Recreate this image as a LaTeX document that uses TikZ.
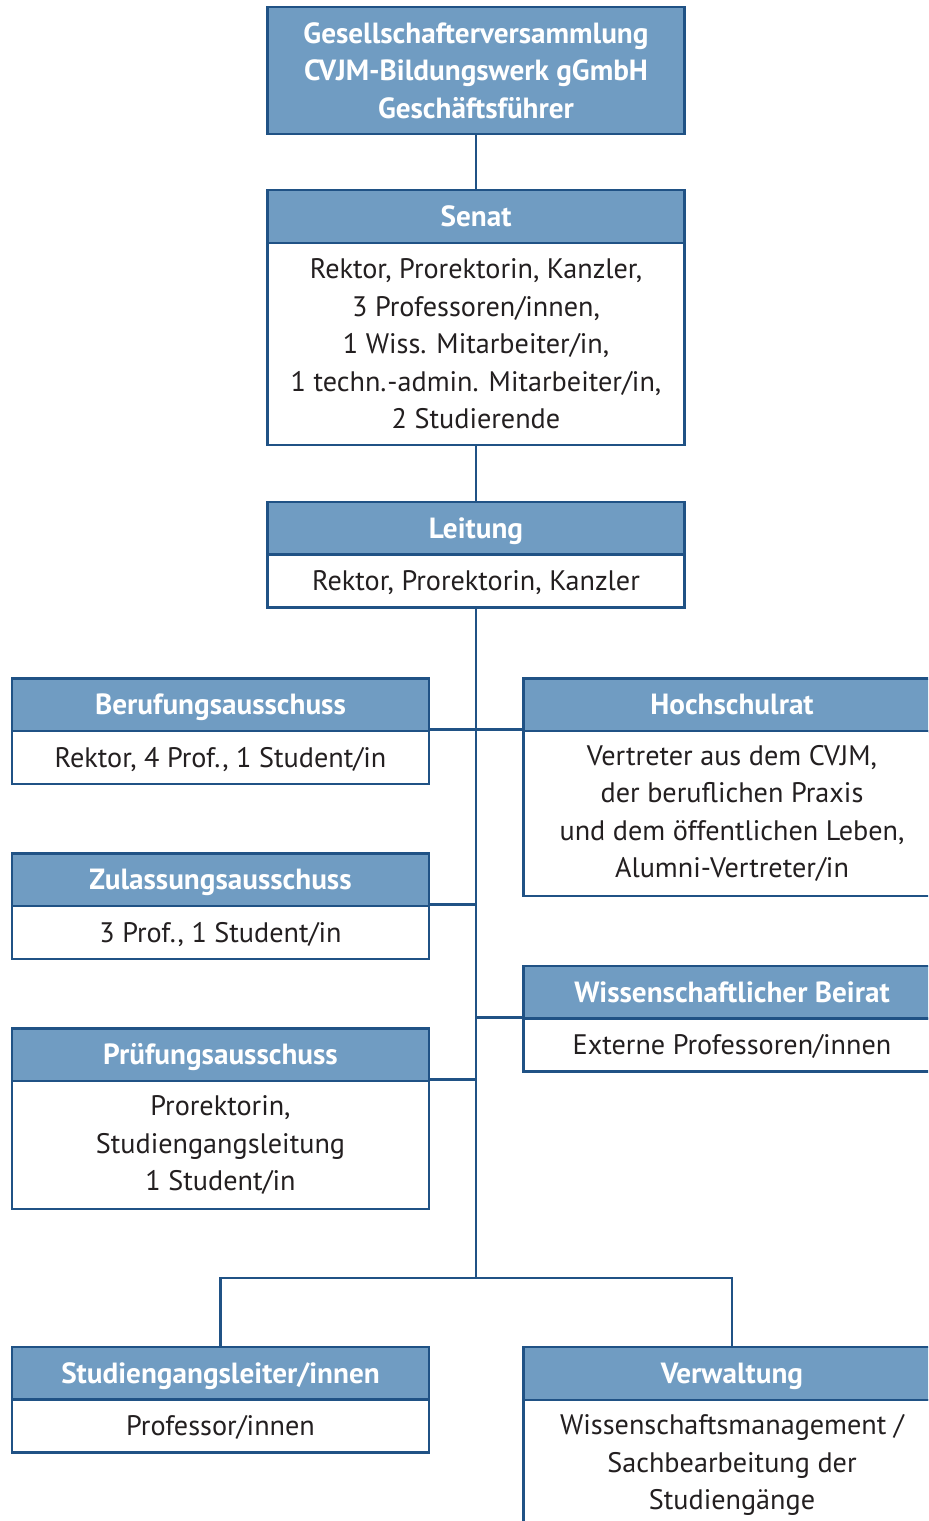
\documentclass[tikz,border=0pt]{standalone}
\usepackage{fontspec}
\setmainfont{PT Sans}
\usepackage{tikz}

\definecolor{frameblue}{RGB}{32,82,133}
\definecolor{headblue}{RGB}{112,156,194}
\definecolor{bodytext}{RGB}{35,31,32}

\tikzset{
  oneline/.style={text height=11.2pt, text depth=1.5pt},
  head/.style={draw=frameblue, fill=headblue, text=white, line width=1.3pt,
    minimum width=208.5pt, minimum height=26.5pt, inner sep=0pt, align=center,
    oneline, font=\bfseries\fontsize{14.6}{18.75}\selectfont},
  body/.style={draw=frameblue, fill=white, text=bodytext, line width=1.3pt,
    minimum width=208.5pt, minimum height=26.5pt, inner sep=0pt, align=center,
    font=\fontsize{14.1}{18.75}\selectfont},
  link/.style={draw=frameblue, line width=1.3pt}
}

\begin{document}
\begin{tikzpicture}[x=0.5pt, y=-0.5pt]
\useasboundingbox (0,0) rectangle (928,1521);
\clip (0,0) rectangle (928,1521);
\node[head, text height={}, text depth={}, minimum height=63.5pt] (gv) at (476,70.5) {Gesellschafterversammlung\\CVJM-Bildungswerk gGmbH\\Geschäftsführer};
\node[head] (senat) at (476,216.5) {Senat};
\node[body, minimum height=101pt] (senatb) at (476,344) {Rektor, Prorektorin, Kanzler,\\3 Professoren/innen,\\1 Wiss. Mitarbeiter/in,\\1 techn.\kern0.5pt-admin. Mitarbeiter/in,\\2 Studierende};
\node[head] (leit) at (476,528.5) {Leitung};
\node[body, oneline] (leitb) at (476,581) {Rektor, Prorektorin, Kanzler};
\node[head] (beruf) at (220.5,705) {Berufungsausschuss};
\node[body, oneline] (berufb) at (220.5,757.5) {Rektor, 4 Prof., 1 Student/in};
\node[head] (hrat) at (732,705) {Hochschulrat};
\node[body, minimum height=82.5pt] (hratb) at (732,813.5) {Vertreter aus dem CVJM,\\der beruflichen Praxis\\und dem öffentlichen Leben,\\Alumni-Vertreter/in};
\node[head] (zul) at (220.5,880) {Zulassungsausschuss};
\node[body, oneline] (zulb) at (220.5,932.5) {3 Prof., 1 Student/in};
\node[head] (wbei) at (732,992.5) {Wissenschaftlicher Beirat};
\node[body, oneline] (wbeib) at (732,1045) {Externe Professoren/innen};
\node[head] (pruef) at (220.5,1055) {Prüfungsausschuss};
\node[body, minimum height=64pt] (pruefb) at (220.5,1145) {Prorektorin,\\Studiengangsleitung\\1 Student/in};
\node[head] (slt) at (220.5,1373.5) {Studiengangsleiter/innen};
\node[body, oneline] (sltb) at (220.5,1426) {Professor/innen};
\node[head] (verw) at (732,1373.5) {Verwaltung};
\node[body, minimum height=65pt] (verwb) at (732,1465) {Wissenschaftsmanagement /\\Sachbearbeitung der\\Studiengänge};
\coordinate (fork) at (476,1278);
\draw[link] (gv) -- (senat);
\draw[link] (senatb) -- (leit);
\draw[link] (leitb) -- (fork);
\draw[link] (berufb.north east) -- (berufb.north east -| hratb.west);
\draw[link] (zulb.north east) -- (zulb.north east -| fork);
\draw[link] (wbeib.north west) -- (wbeib.north west -| fork);
\draw[link] (pruefb.north east) -- (pruefb.north east -| fork);
\draw[link] (slt) |- (fork) -| (verw);
\end{tikzpicture}
\end{document}
